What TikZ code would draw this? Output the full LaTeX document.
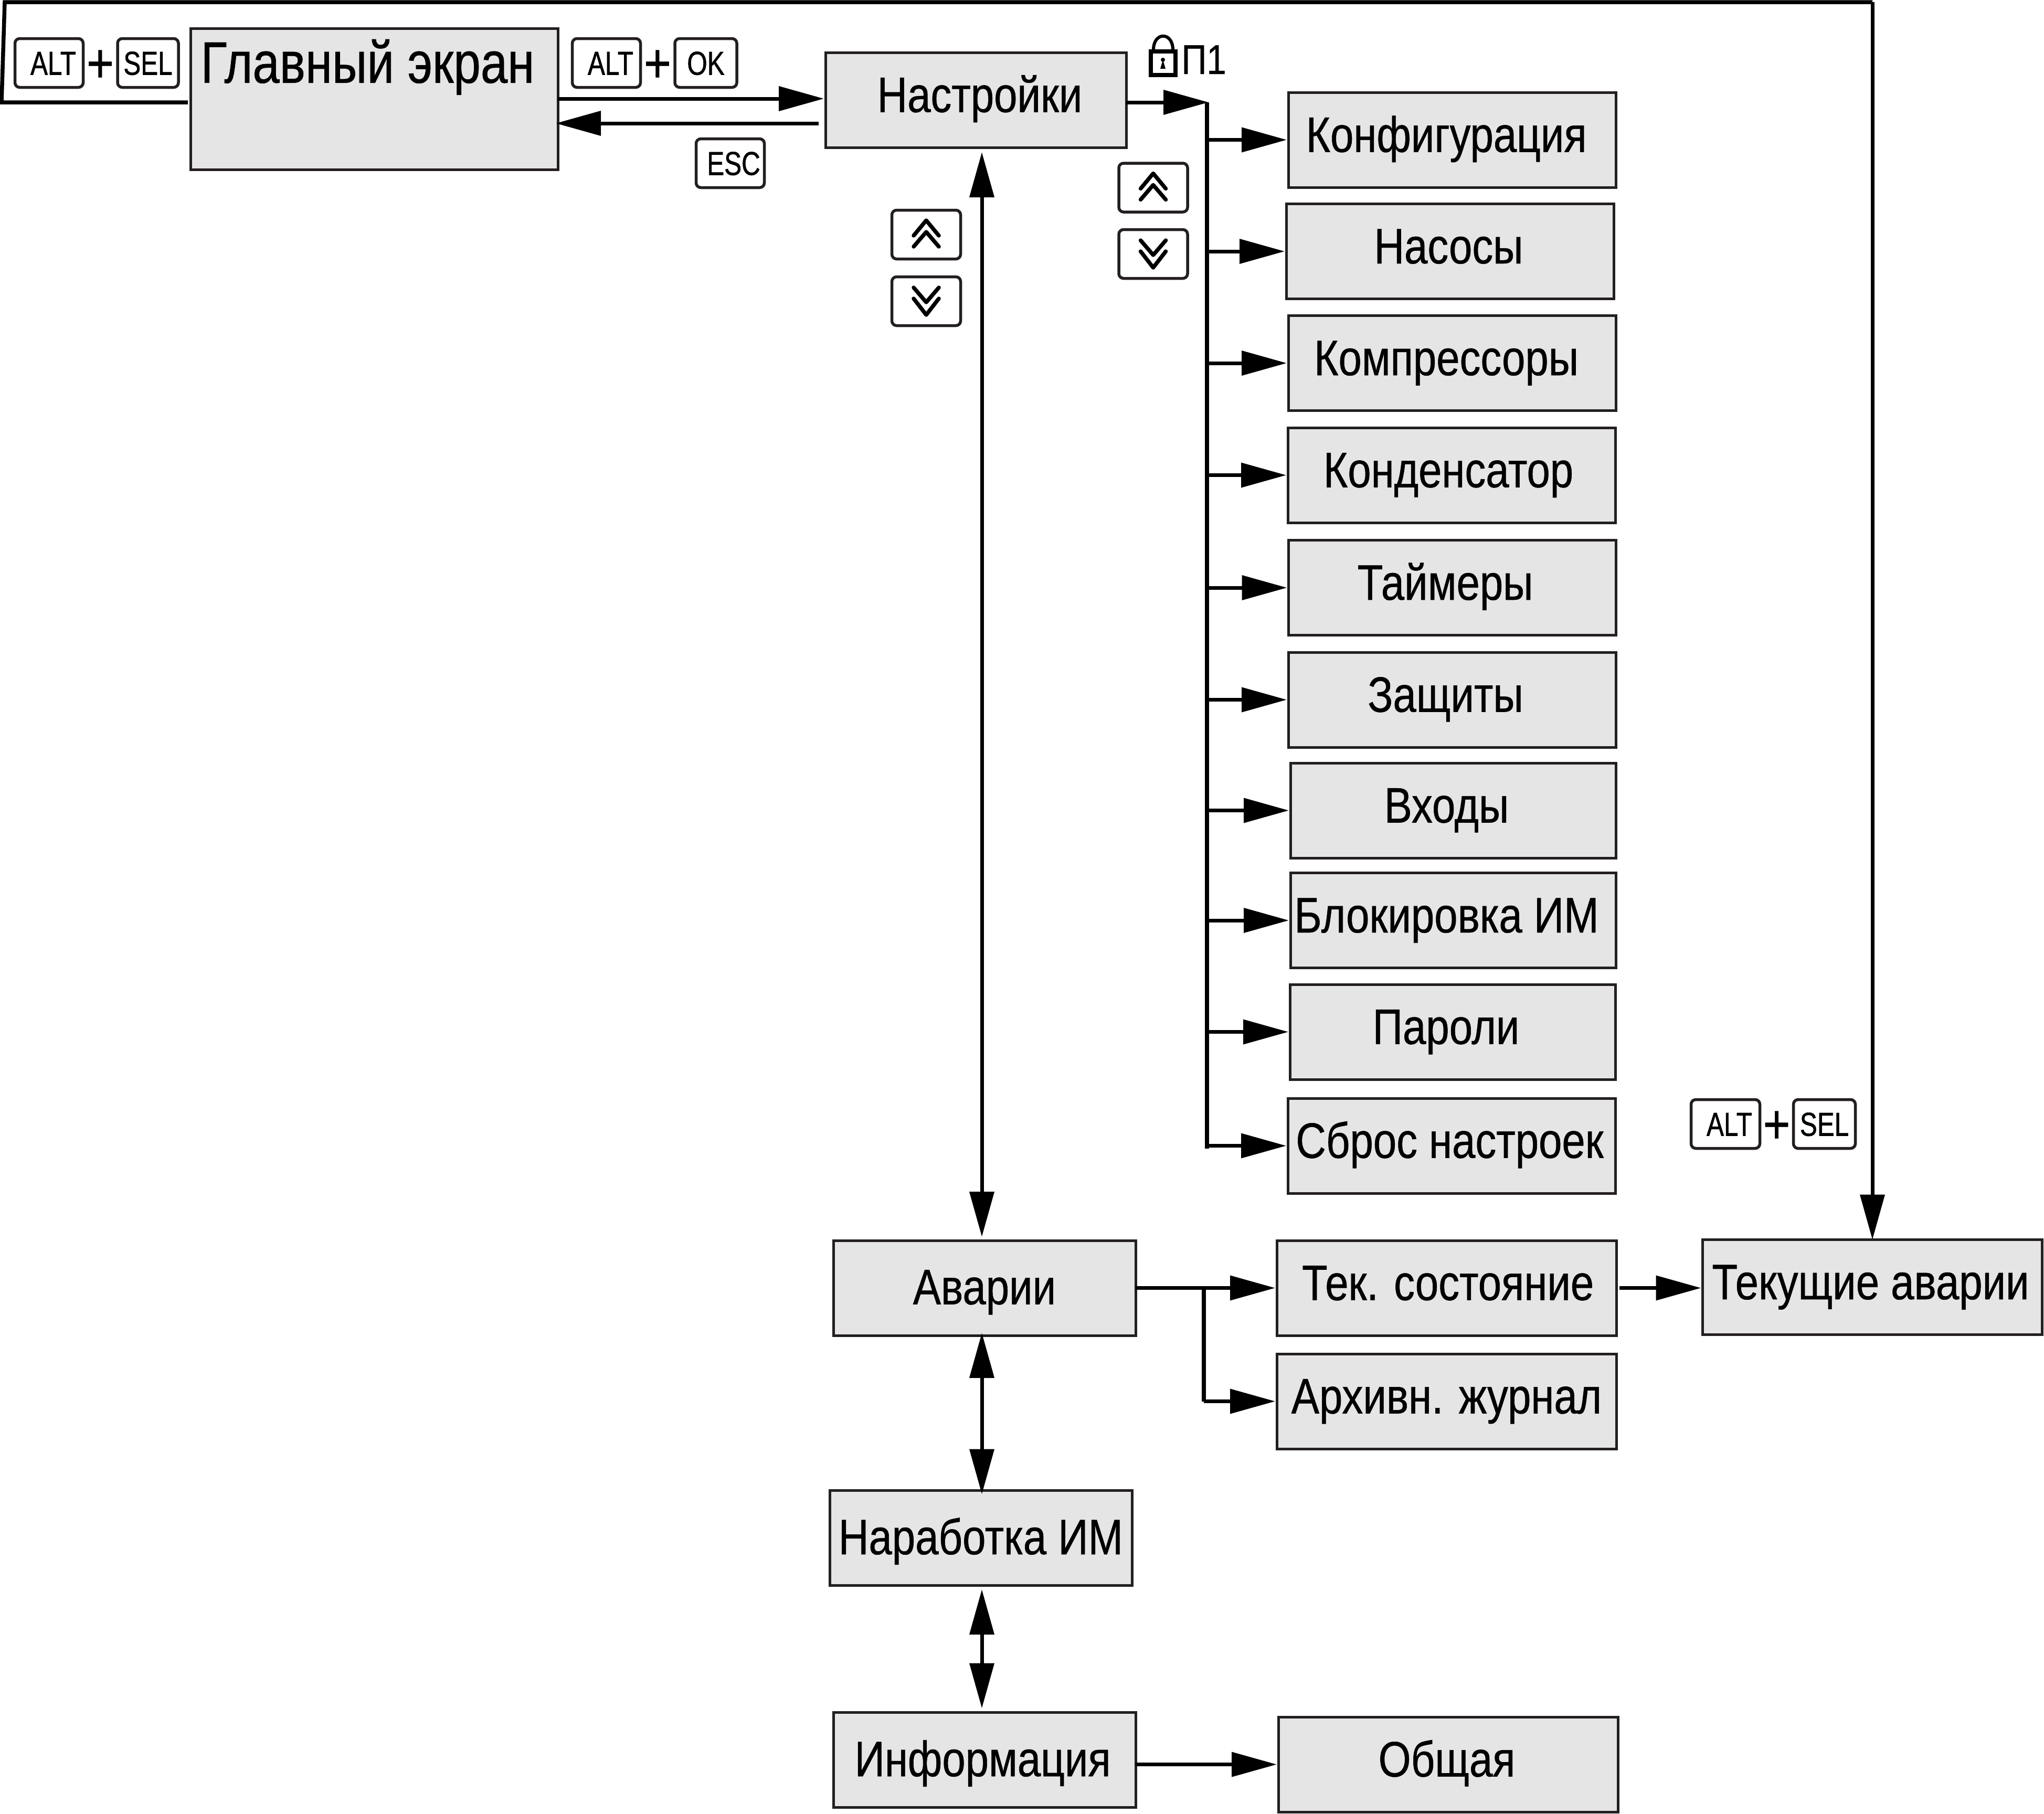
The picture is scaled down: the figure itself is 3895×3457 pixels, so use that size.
\documentclass[tikz,border=0pt]{standalone}
\usepackage{fontspec}
\usetikzlibrary{arrows.meta}

\newfontfamily\boxfont[FakeStretch=0.84,FakeBold=0.6]{Liberation Sans}
\newfontfamily\screenfont[FakeStretch=0.83,FakeBold=0.6]{Liberation Sans}
\newfontfamily\keyfont[FakeStretch=0.78,FakeBold=1]{Liberation Sans}

\definecolor{boxgray}{HTML}{E5E5E5}
\definecolor{edgeblack}{HTML}{231F20}

\tikzset{
	menubox/.style={draw=edgeblack,fill=boxgray,line width=0.5mm,inner sep=0pt,outer sep=0pt,
		minimum width=62.4mm,text height=11.35mm,text depth=6.75mm,
		font=\boxfont\fontsize{27}{30}\selectfont},
	lowbox/.style={menubox,minimum width=57.6mm,text height=12.15mm,text depth=5.95mm},
	keycap/.style={draw=edgeblack,fill=white,line width=0.55mm,rounded corners=0.9mm,inner sep=0pt,outer sep=0pt,
		minimum height=9.3mm,text height=4.5mm,text depth=0pt,
		font=\keyfont\fontsize{18}{20}\selectfont},
	plussign/.style={inner sep=0pt,text height=7.32mm,text depth=0pt,
		font=\boxfont\fontsize{30}{32}\selectfont},
	chevron/.style={draw=black,line width=0.75mm,line cap=round,line join=round},
	link/.style={draw=black,line width=0.7mm,-{Triangle[length=8.6mm,width=4.6mm]},shorten >=0.3mm},
	linktwo/.style={draw=black,line width=0.7mm,{Triangle[length=8.6mm,width=4.6mm]}-{Triangle[length=8.6mm,width=4.6mm]}},
	wire/.style={draw=black,line width=0.75mm}
}

\begin{document}
\begin{tikzpicture}[x=0.1mm,y=-0.1mm]
	\useasboundingbox (0,0) rectangle (3895,3457);

	%main screen and settings
	\node[menubox,minimum width=70mm,text height=10.35mm,text depth=16.6mm,font=\screenfont\fontsize{31.7}{34}\selectfont] (glav) at (713,189) {Главный экран\kern2.5mm};
	\node[menubox,minimum width=57.3mm] (nast) at (1859.5,190.5) {\hspace{1.5mm}Настройки};

	%settings menu
	\node[menubox] (konf)  at (2767,266.5)   {Конфигурация\kern2.2mm};
	\node[menubox] (nasos) at (2763,479)     {Насосы\kern0.5mm};
	\node[menubox] (kompr) at (2767,692)     {Компрессоры\kern2.2mm};
	\node[menubox] (kond)  at (2766,905.5)   {Конденсатор\kern1.2mm};
	\node[menubox] (taim)  at (2767.5,1120)  {Таймеры\kern2.7mm};
	\node[menubox] (zasch) at (2767,1333.5)  {Защиты\kern2.5mm};
	\node[menubox,minimum width=62mm] (vhod)  at (2769,1544.5){Входы\kern2.5mm};
	\node[menubox,minimum width=62mm] (blok)  at (2769,1754)  {Блокировка ИМ\kern2.5mm};
	\node[menubox,minimum width=62mm] (parol) at (2768,1966.5){Пароли\kern2.5mm};
	\node[menubox] (sbros) at (2766,2183.5)  {Сброс настроек\kern0.7mm};

	%lower column
	\node[lowbox] (avar)  at (1876,2454.5){Аварии};
	\node[lowbox] (narab) at (1869,2931)  {Наработка ИМ};
	\node[lowbox] (info)  at (1876,3354)  {Информация\kern0.7mm};
	\node[menubox,minimum width=64.7mm] (teks)  at (2756.5,2454.5){\hspace{0.5mm}Тек. состояние};
	\node[menubox,minimum width=64.7mm] (arhiv) at (2756.5,2670.5){Архивн. журнал};
	\node[menubox,minimum width=64.7mm] (tekav) at (3568,2453)  {Текущие аварии\kern0.7mm};
	\node[menubox,minimum width=64.7mm] (obsch) at (2759.5,3362.5){Общая\kern0.5mm};

	%keys
	\node[keycap,minimum width=13mm] (alta) at (93.5,120)  {\hspace{1.6mm}ALT};
	\node[plussign] (plusa) at (191,120) {+};
	\node[keycap,minimum width=11.6mm] (sela) at (282,120)   {SEL};
	\node[keycap,minimum width=13mm] (altb) at (1155.5,120){\hspace{1.6mm}ALT};
	\node[plussign] (plusb) at (1253,120) {+};
	\node[keycap,minimum width=11.8mm] (okb)  at (1345,120)  {OK};
	\node[keycap,minimum width=13mm] (esc)  at (1391.5,311){\hspace{1.3mm}ESC};
	\node[keycap,minimum width=13.1mm] (altc) at (3288,2142) {\hspace{1.5mm}ALT};
	\node[plussign] (plusc) at (3385.5,2142) {+};
	\node[keycap,minimum width=11.8mm] (selc) at (3476.5,2142) {SEL};
	\node[keycap,minimum width=13.1mm] (upa)   at (1765,447)    {};
	\node[keycap,minimum width=13.1mm] (downa) at (1765,574)    {};
	\node[keycap,minimum width=13.1mm] (upb)   at (2197.5,357.5){};
	\node[keycap,minimum width=13.1mm] (downb) at (2197.5,484)  {};

	%double chevrons on the keys
	\foreach \k in {upa,upb}
		\draw[chevron,shift={(\k.center)}] (-24,2)--(0,-27)--(24,2) (-24,23)--(0,-5)--(24,23);
	\foreach \k in {downa,downb}
		\draw[chevron,shift={(\k.center)}] (-24,-26)--(0,2)--(24,-26) (-24,-5)--(0,26)--(24,-5);

	%lock
	\draw[line width=0.6mm] (2198,95) .. controls (2198,60) and (2235,60) .. (2235,95);
	\draw[line width=0.8mm,fill=white] (2192.5,98) rectangle (2239.5,143);
	\fill (2216,114) circle (4);
	\fill (2216,114)--(2221,131)--(2211,131)--cycle;
	\node[inner sep=0pt,text height=5.7mm,text depth=0pt,font=\boxfont\fontsize{22.6}{24}\selectfont] (pone) at (2294,112.5) {П1};

	%helper points
	\coordinate (loopa) at (3,195);
	\coordinate (loopb) at (9,4);
	\coordinate (bustop) at (2300,195);
	\coordinate (busend) at (2300,2189);
	\coordinate (spine) at (1871,0);
	\coordinate (fork) at (2294,2454.5);
	\coordinate (nastin) at ([yshift=0.25mm]nast.west);
	\coordinate (escout) at (1560,235);

	%top loop
	\draw[wire] (glav.west|-loopa) ++(-0.5mm,0) -- (loopa) -- (loopb) -- (loopb-|tekav.north);
	\draw[link,shorten >=0pt] (loopb-|tekav.north) -- (tekav.north);

	%main screen arrows
	\draw[link] (glav.east|-nastin) -- (nastin);
	\draw[link,shorten >=-0.4mm] (escout) -- (escout-|glav.east);

	%settings bus
	\draw[link,shorten >=-0.3mm] (nast.east|-bustop) -- (bustop);
	\draw[wire] (bustop) -- (busend);
	\foreach \n in {konf,nasos,kompr,kond,taim,zasch,vhod,blok,parol,sbros}
		\draw[link] (bustop|-\n.west) -- (\n.west);

	%vertical arrows
	\draw[linktwo,shorten <=0.9mm,shorten >=0.7mm] (spine|-nast.south) -- (spine|-avar.north);
	\draw[linktwo,shorten <=-0.5mm,shorten >=-0.7mm] (spine|-avar.south) -- (spine|-narab.north);
	\draw[linktwo,shorten <=0.75mm,shorten >=0.8mm] (spine|-narab.south) -- (spine|-info.north);

	%alarms and information
	\draw[link] (avar.east) -- (teks.west);
	\draw[wire] (fork) -- (fork|-arhiv.west);
	\draw[link] (fork|-arhiv.west) -- (arhiv.west);
	\draw[link,shorten <=0.6mm] (teks.east) -- (teks.east-|tekav.west);
	\draw[link] (info.east|-obsch.west) -- (obsch.west);
\end{tikzpicture}
\end{document}
